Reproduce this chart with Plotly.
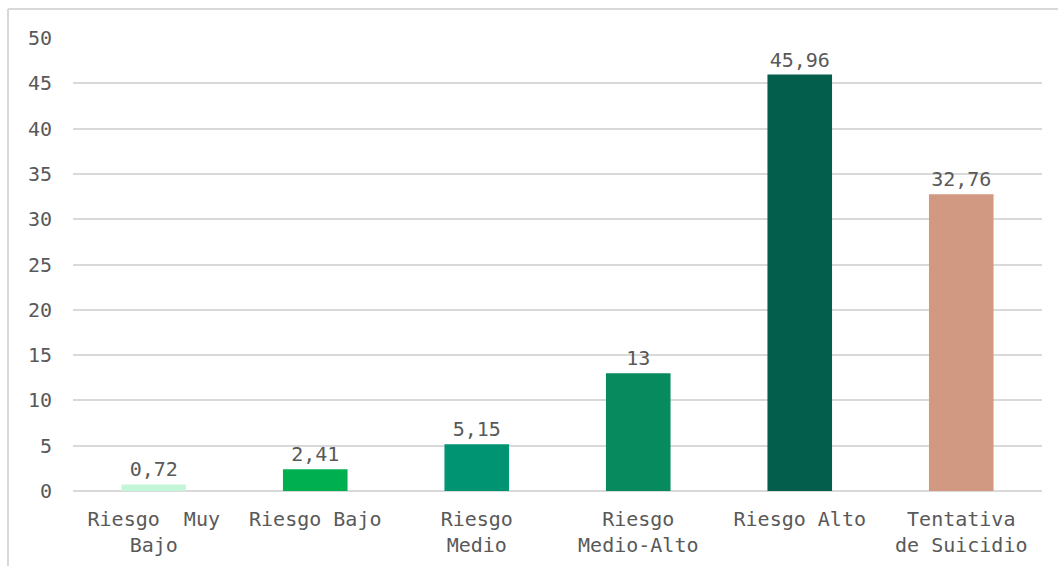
import plotly.graph_objects as go

categories = ["Riesgo  Muy<br>Bajo", "Riesgo Bajo", "Riesgo<br>Medio",
              "Riesgo<br>Medio-Alto", "Riesgo Alto", "Tentativa<br>de Suicidio"]
values = [0.72, 2.41, 5.15, 13, 45.96, 32.76]
bar_colors = ["#C3F5D8", "#00B050", "#009473", "#068A5E", "#035F4B", "#D19981"]
y_ticks = [0, 5, 10, 15, 20, 25, 30, 35, 40, 45, 50]

FONT = "DejaVu Sans Mono"
TEXT = "#595959"
GRID = "#D9D9D9"

fig = go.Figure(
    go.Bar(
        x=categories,
        y=values,
        marker=dict(color=bar_colors, line=dict(width=0)),
        width=0.4,
        texttemplate="%{y}",
        textposition="outside",
        textfont=dict(family=FONT, size=20, color=TEXT),
        cliponaxis=False,
    )
)

fig.update_layout(
    width=1058,
    height=566,
    margin=dict(l=73, r=16, t=38, b=75),
    paper_bgcolor="white",
    plot_bgcolor="white",
    separators=",.",
    showlegend=False,
    font=dict(family=FONT, size=20, color=TEXT),
    bargap=0.6,
    xaxis=dict(
        showgrid=False,
        showline=False,
        ticks="",
        tickfont=dict(family=FONT, size=20, color=TEXT),
        ticklabelstandoff=14,
        automargin=False,
    ),
    yaxis=dict(
        range=[0, 50],
        tickvals=y_ticks,
        showgrid=True,
        gridcolor=GRID,
        gridwidth=1.5,
        zeroline=True,
        zerolinecolor=GRID,
        zerolinewidth=1.5,
        showline=False,
        ticks="",
        tickfont=dict(family=FONT, size=20, color=TEXT),
        ticklabelstandoff=20,
        automargin=False,
    ),
    shapes=[
        dict(type="line", xref="paper", yref="paper",
             x0=-0.0671, x1=1.02, y0=1.064, y1=1.064,
             line=dict(color=GRID, width=2)),
        dict(type="line", xref="paper", yref="paper",
             x0=-0.0671, x1=-0.0671, y0=1.064, y1=-0.2,
             line=dict(color=GRID, width=2)),
    ],
)

fig.write_html("out.html")
